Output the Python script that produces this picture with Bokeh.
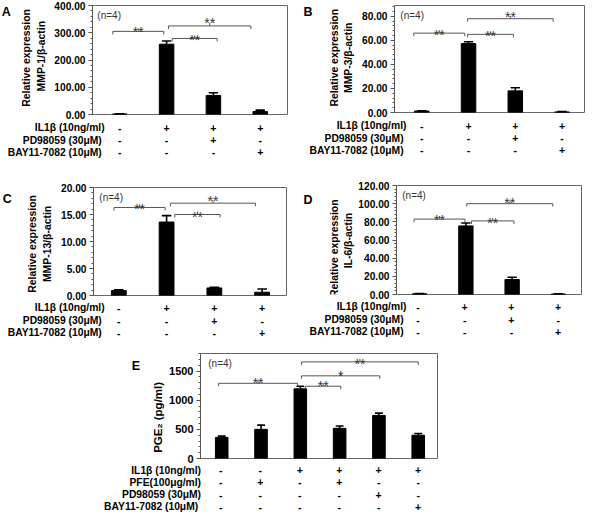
import math
from bokeh.plotting import figure
from bokeh.models import Range1d, SingleIntervalTicker, PrintfTickFormatter
from bokeh.layouts import column, row
from bokeh.core.properties import value
from bokeh.embed import file_html
from bokeh.resources import INLINE

# ---------------- data ----------------
rows4 = ["IL1β (10ng/ml)", "PD98059  (30μM)", "BAY11-7082  (10μM)"]
signs4 = [["-", "+", "+", "+"],
          ["-", "-", "+", "-"],
          ["-", "-", "-", "+"]]

mmp1_mean = [2, 258, 70, 11]
mmp1_err = [1, 12, 10, 5]
mmp3_mean = [1.2, 57.3, 18.0, 0.5]
mmp3_err = [0.3, 1.5, 2.6, 0.2]
mmp13_mean = [0.9, 13.6, 1.4, 0.6]
mmp13_err = [0.15, 1.2, 0.1, 0.6]
il6_mean = [0.8, 75.5, 16.5, 0.5]
il6_err = [0.3, 3.2, 2.5, 0.3]

rows6 = ["IL1β (10ng/ml)", "PFE(100μg/ml)", "PD98059 (30μM)", "BAY11-7082  (10μM)"]
signs6 = [["-", "-", "+", "+", "+", "+"],
          ["-", "+", "-", "+", "-", "-"],
          ["-", "-", "-", "-", "+", "-"],
          ["-", "-", "-", "-", "-", "+"]]
pge2_mean = [361, 500, 1194, 517, 739, 400]
pge2_err = [22, 72, 45, 39, 39, 28]

# significance brackets: start, end, height, mark
mmp1_br = dict(x0=[-0.15, 1.04, 1.12], x1=[0.94, 2.80, 2.08], y=[305, 325, 279], mark=["**", "**", "**"])
mmp3_br = dict(x0=[-0.17, 0.98, 0.98], x1=[0.92, 2.81, 1.96], y=[66, 78, 65], mark=["**", "**", "**"])
mmp13_br = dict(x0=[-0.10, 1.08, 1.17], x1=[0.97, 2.86, 2.12], y=[16.3, 17.1, 15.0], mark=["**", "**", "**"])
il6_br = dict(x0=[-0.12, 1.02, 1.12], x1=[0.98, 2.88, 2.04], y=[83, 100, 81], mark=["**", "**", "**"])
pge2_br = dict(x0=[-0.08, 2.13, 2.03, 2.03], x1=[1.93, 3.03, 4.02, 5.00], y=[1289, 1239, 1417, 1656],
               mark=["**", "**", "*", "**"])

# ---------------- layout / style ----------------
SX = 586 / 602
SY = 512 / 528
FONT = "Liberation Sans"


def X(r):
    return int(round(r * SX))


def Y(r):
    return int(round(r * SY))


def blank_fig(w, h, xr, yr):
    f = figure(width=w, height=h, x_range=xr, y_range=yr, x_axis_location=None,
               y_axis_location=None, toolbar_location=None, output_backend="svg",
               min_border_left=0, min_border_right=0, min_border_top=0, min_border_bottom=0,
               title=None)
    f.grid.grid_line_color = None
    f.outline_line_color = None
    f.background_fill_color = "white"
    f.border_fill_color = "white"
    return f


def put_text(f, xs, ys, texts, align, size, bold=True, angle=0.0, color="black"):
    f.text(x=xs, y=ys, text=texts, text_align=align, text_baseline="middle", angle=angle,
           text_font=value(FONT), text_font_size=size,
           text_font_style="bold" if bold else "normal", text_color=color)


def make_panel(cfg, means, errs, br, lifts, row_labels, row_signs):
    rx0, ry0, rx1, ry1 = cfg["region"]
    fx0, fy0, fx1, fy1 = cfg["frame"]
    xa, xb = cfg["xr"]
    ymax = cfg["ymax"]
    L, T, R, B = X(rx0), Y(ry0), X(rx1), Y(ry1)
    XS = X(cfg["xsplit"])
    YS = Y(fy1 + 7)
    FL, FT, FR, FB = X(fx0), Y(fy0), X(fx1), Y(fy1)

    # ---- main plot ----
    p = figure(width=R - XS, height=YS - T, x_range=Range1d(xa, xb), y_range=Range1d(0, ymax),
               x_axis_location=None, toolbar_location=None, output_backend="svg",
               min_border_left=FL - XS, min_border_right=R - FR,
               min_border_top=FT - T, min_border_bottom=YS - FB, title=None)
    p.grid.grid_line_color = None
    p.outline_line_color = "#666666"
    p.outline_line_width = 1
    p.background_fill_color = "white"
    p.border_fill_color = "white"

    ux = (xb - xa) / (FR - FL)
    uy = ymax / (FB - FT)

    ax = p.yaxis[0]
    ax.ticker = SingleIntervalTicker(interval=cfg["interval"], num_minor_ticks=5)
    ax.formatter = PrintfTickFormatter(format=cfg["fmt"])
    ax.major_label_text_font = FONT
    ax.major_label_text_font_style = "bold"
    ax.major_label_text_font_size = cfg["tick_fs"]
    ax.major_label_text_color = "black"
    ax.axis_line_color = "#555555"
    ax.major_tick_line_color = "#555555"
    ax.minor_tick_line_color = "#555555"
    ax.major_tick_in = 0
    ax.major_tick_out = 4
    ax.minor_tick_in = 0
    ax.minor_tick_out = 2
    ax.major_label_standoff = 3

    idx = list(range(len(means)))
    tops = [m + e for m, e in zip(means, errs)]
    p.segment(x0=idx, y0=means, x1=idx, y1=tops, line_color="black", line_width=1.6)
    p.segment(x0=[i - 0.1 for i in idx], y0=tops, x1=[i + 0.1 for i in idx], y1=tops,
              line_color="black", line_width=1.6)
    p.vbar(x=idx, top=means, width=cfg["bar_w"], fill_color="black", line_color="black")

    # significance brackets
    t = 3 * uy
    sx0, sy0, sx1, sy1 = [], [], [], []
    tx, ty = [], []
    for a, b, y, lift in zip(br["x0"], br["x1"], br["y"], lifts):
        m = (a + b) / 2
        sx0 += [a, a, b, m]
        sy0 += [y, y, y, y]
        sx1 += [b, a, b, m]
        sy1 += [y, y - t, y - t, y + t]
        tx.append(m)
        ty.append(y + (lift - 7.5) * uy)
    p.segment(x0=sx0, y0=sy0, x1=sx1, y1=sy1, line_color="#555555", line_width=1)
    p.text(x=tx, y=ty, text=br["mark"], text_align="center", text_baseline="alphabetic",
           text_font=value(FONT), text_font_size="14px", text_color="#333333")

    # (n=4)
    p.text(x=[xa + (cfg["n_dx"] * SX) * ux], y=[ymax - 10 * SY * uy], text=["(n=4)"],
           text_align="left", text_baseline="middle", text_font=value(FONT),
           text_font_size="10px", text_color="#333333")

    # ---- left text area (panel letter, y-axis title) ----
    lt = blank_fig(XS - L, YS - T, Range1d(L, XS), Range1d(YS, T))
    put_text(lt, [r * SX for r in cfg["ylabel_x"]], [r * SY for r in cfg["ylabel_cy"]],
             cfg["ylabel"], "center", cfg["ylab_fs"], angle=math.pi / 2)
    let, lx, ly = cfg["letter"]
    put_text(lt, [lx * SX], [ly * SY], [let], "center", "12.5px")

    # ---- condition table below ----
    tx_start = xa - (FL - L) * ux
    tx_end = xb + (R - FR) * ux
    tb = blank_fig(R - L, B - YS, Range1d(tx_start, tx_end), Range1d(B, YS))
    lab_x = xa + (cfg["label_right"] * SX - FL) * ux
    for ry, lab, sg in zip(cfg["rows_y"], row_labels, row_signs):
        put_text(tb, [lab_x], [ry * SY], [lab], "right", "10.3px")
        put_text(tb, idx, [ry * SY] * len(sg), sg, "center", "10.5px")

    return column(row(lt, p), tb)


cfgA = dict(region=(0, 0, 301, 168), frame=(95, 5, 295, 118), xsplit=52, xr=(-0.583, 3.583),
            ymax=400, interval=100, fmt="%.2f", tick_fs="10.2px", bar_w=0.31, n_dx=5,
            rows_y=[131, 144, 156.5], label_right=107,
            ylabel=["Relative expression", "MMP-1/β-actin"], ylabel_x=[27, 42], ylabel_cy=[60, 58],
            ylab_fs="10.4px", letter=("A", 6, 8))
cfgB = dict(region=(301, 0, 602, 168), frame=(405, 5, 600, 116), xsplit=366, xr=(-0.583, 3.48),
            ymax=89, interval=20, fmt="%.2f", tick_fs="10.2px", bar_w=0.31, n_dx=6,
            rows_y=[129, 142, 154.5], label_right=417,
            ylabel=["Relative expression", "MMP-3/β-actin"], ylabel_x=[343, 357], ylabel_cy=[60, 60],
            ylab_fs="10.4px", letter=("B", 316, 8))
cfgC = dict(region=(0, 168, 301, 350), frame=(96, 193, 294, 304), xsplit=56, xr=(-0.53, 3.51),
            ymax=20, interval=5, fmt="%.2f", tick_fs="10.2px", bar_w=0.31, n_dx=6,
            rows_y=[317, 330, 342.5], label_right=107,
            ylabel=["Relative expression", "MMP-13/β-actin"], ylabel_x=[33, 48], ylabel_cy=[243, 243],
            ylab_fs="10.4px", letter=("C", 7, 183))
cfgD = dict(region=(301, 168, 602, 350), frame=(405, 191, 597, 303), xsplit=365, xr=(-0.5, 3.5),
            ymax=120, interval=20, fmt="%.2f", tick_fs="10.2px", bar_w=0.31, n_dx=6,
            rows_y=[316, 329, 341.5], label_right=417,
            ylabel=["Relative expression", "IL-6/β-actin"], ylabel_x=[343, 357], ylabel_cy=[250, 240],
            ylab_fs="10.4px", letter=("D", 316, 187))
cfgE = dict(region=(0, 350, 602, 528), frame=(204, 364, 449, 472), xsplit=171, xr=(-0.54, 5.49),
            ymax=1800, interval=500, fmt="%d", tick_fs="11px", bar_w=0.32, n_dx=8,
            rows_y=[484.5, 497, 509.5, 522], label_right=206,
            ylabel=["PGE₂ (pg/ml)"], ylabel_x=[162], ylabel_cy=[428],
            ylab_fs="11.5px", letter=("E", 139, 365))

pA = make_panel(cfgA, mmp1_mean, mmp1_err, mmp1_br, [6.5, 10, 6], rows4, signs4)
pB = make_panel(cfgB, mmp3_mean, mmp3_err, mmp3_br, [6, 9.5, 6], rows4, signs4)
pC = make_panel(cfgC, mmp13_mean, mmp13_err, mmp13_br, [5.5, 10, 5], rows4, signs4)
pD = make_panel(cfgD, il6_mean, il6_err, il6_br, [6.6, 8.5, 5.6], rows4, signs4)
pE = make_panel(cfgE, pge2_mean, pge2_err, pge2_br, [7.7, 7.3, 7.3, 5.6], rows6, signs6)

layout = column(row(pA, pB), row(pC, pD), pE)
open("out.html", "w").write(file_html(layout, INLINE))
